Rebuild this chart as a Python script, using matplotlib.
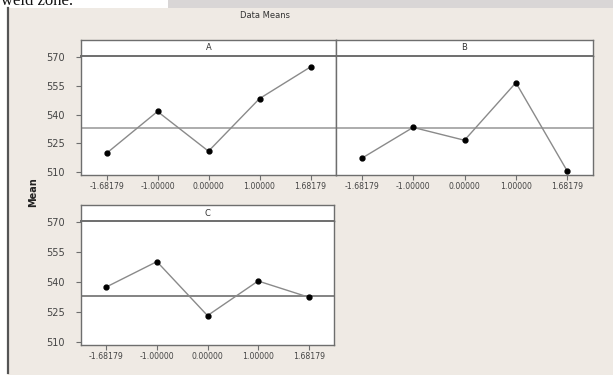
import matplotlib
matplotlib.use("Agg")
import matplotlib.pyplot as plt
from matplotlib.patches import Rectangle

# levels of each factor (coded units)
levels = ["-1.68179", "-1.00000", "0.00000", "1.00000", "1.68179"]
means_a = [519.8, 541.6, 520.9, 548.3, 564.8]
means_b = [517.2, 533.3, 526.6, 556.6, 510.5]
means_c = [537.5, 550.2, 523.2, 540.5, 532.4]
grand_mean = 533.0
y_ticks = [510, 525, 540, 555, 570]

W, H = 613, 375
BG = "#efeae4"
LINE = "#8a8a8a"
FRAME = "#6e6e6e"

fig = plt.figure(figsize=(W / 100, H / 100), dpi=100)
fig.patch.set_facecolor("white")


def px_axes(x0, y0, x1, y1, **kw):
    # pixel box (top-left origin) -> figure axes
    return fig.add_axes([x0 / W, 1 - y1 / H, (x1 - x0) / W, (y1 - y0) / H], **kw)


# page background bits
fig.patches.append(Rectangle((8 / W, 0), 1 - 8 / W, 1 - 8 / H, transform=fig.transFigure,
                             facecolor=BG, edgecolor="none", zorder=-10))
fig.patches.append(Rectangle((168 / W, 1 - 8 / H), 1 - 168 / W, 8 / H, transform=fig.transFigure,
                             facecolor="#d9d6d6", edgecolor="none", zorder=-10))
fig.add_artist(plt.Line2D([8 / W, 8 / W], [0.005, 1 - 8 / H], transform=fig.transFigure,
                          color="#555555", lw=1.6, zorder=-5))
fig.text(1 / W, 1 - 5 / H, "weld zone.", family="Liberation Serif", fontsize=12,
         va="baseline", ha="left", color="#111111")

fig.text(265 / W, 1 - 16 / H, "Data Means", fontsize=6, ha="center", va="center", color="#333333")
fig.text(33 / W, 1 - 192 / H, "Mean", fontsize=7, fontweight="bold", rotation=90,
         ha="center", va="center", color="#222222")


def panel(x0, x1, ytop, ystrip, ybot, name, means, show_y, mean_color):
    strip = px_axes(x0, ytop, x1, ystrip)
    strip.set_facecolor("white")
    strip.set_xticks([])
    strip.set_yticks([])
    for s in strip.spines.values():
        s.set_color(FRAME)
        s.set_linewidth(1.0)
    strip.text(0.5, 0.5, name, ha="center", va="center", fontsize=6, color="#333333",
               transform=strip.transAxes)

    ax = px_axes(x0, ystrip, x1, ybot)
    ax.set_facecolor("white")
    xs = list(range(len(levels)))
    ax.axhline(grand_mean, color=mean_color, lw=1.3, zorder=1)
    ax.plot(xs, means, color=LINE, lw=1.0, zorder=2)
    ax.plot(xs, means, "o", color="black", ms=3.5, zorder=3)
    ax.set_xlim(-0.5, 4.5)
    ax.set_ylim(508.5, 570.5)
    ax.set_xticks(xs)
    ax.set_xticklabels(levels)
    ax.set_yticks(y_ticks)
    ax.tick_params(axis="x", labelsize=5.6, length=3.5, width=0.8, color=FRAME,
                   labelcolor="#444444", pad=1.5)
    ax.tick_params(axis="y", labelsize=7, length=3.5, width=0.8, color=FRAME,
                   labelcolor="#444444", pad=8)
    if not show_y:
        ax.tick_params(axis="y", left=False, labelleft=False)
    for s in ax.spines.values():
        s.set_color(FRAME)
        s.set_linewidth(1.0)
    ax.spines["top"].set_linewidth(1.4)
    return ax


panel(81, 336, 40, 56, 175, "A", means_a, True, "#a6a6a6")
panel(336, 593, 40, 56, 175, "B", means_b, False, "#a6a6a6")
panel(81, 334, 205, 221, 345, "C", means_c, True, "#7a7a7a")

fig.savefig("out.png", dpi=100, facecolor=fig.get_facecolor())
